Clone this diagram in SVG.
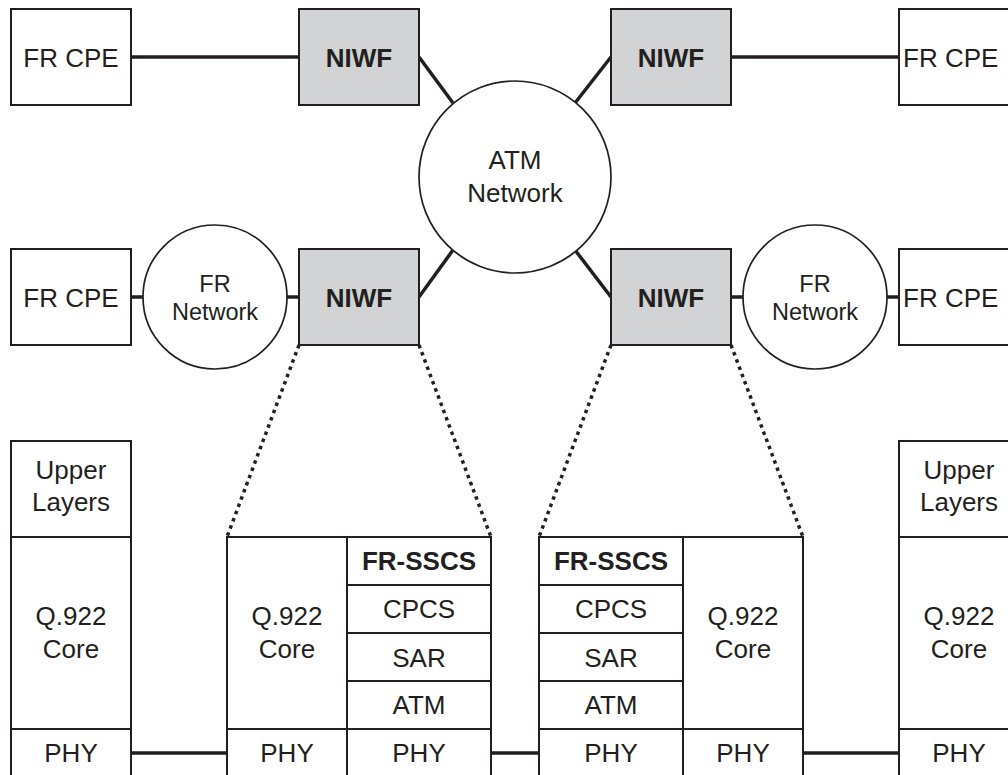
<svg xmlns="http://www.w3.org/2000/svg" width="1008" height="775" viewBox="0 0 1008 775">
<style>
.box{fill:#fff;stroke:#231f20;stroke-width:2}
.niwf{fill:#d1d3d4;stroke:#231f20;stroke-width:2}
.cir{fill:#fff;stroke:#231f20;stroke-width:1.7}
.t{font-family:"Liberation Sans",Arial,sans-serif;font-size:26px;fill:#231f20;text-anchor:middle}
.s{font-size:23.5px}
.b{font-weight:bold}
.st{text-anchor:start}
.conn line{stroke:#231f20;stroke-width:3.5}
.dot line{stroke:#231f20;stroke-width:3.5;stroke-dasharray:3.5 4.2}
</style>
<rect width="1008" height="775" fill="#fff"/>
<g class="conn">
<line x1="131" y1="57" x2="299" y2="57"/>
<line x1="731" y1="57" x2="899" y2="57"/>
<line x1="419" y1="57" x2="453" y2="103"/>
<line x1="611" y1="57" x2="575" y2="103"/>
<line x1="419" y1="297" x2="453" y2="250"/>
<line x1="611" y1="297" x2="575" y2="250"/>
<line x1="131" y1="297" x2="143" y2="297"/>
<line x1="287" y1="297" x2="299" y2="297"/>
<line x1="731" y1="297" x2="743" y2="297"/>
<line x1="887" y1="297" x2="899" y2="297"/>
<line x1="131" y1="753" x2="227" y2="753"/>
<line x1="491" y1="753" x2="539" y2="753"/>
<line x1="803" y1="753" x2="899" y2="753"/>
</g>
<g class="dot">
<line x1="299" y1="345" x2="227" y2="537"/>
<line x1="419" y1="345" x2="491" y2="537"/>
<line x1="611" y1="345" x2="539" y2="537"/>
<line x1="731" y1="345" x2="803" y2="537"/>
</g>
<g id="cpe-tl"><rect class="box" x="11" y="9" width="120" height="96"/><text class="t" x="71" y="67">FR CPE</text></g>
<g id="niwf-tl"><rect class="niwf" x="299" y="9" width="120" height="96"/><text class="t b" x="359" y="67">NIWF</text></g>
<g id="niwf-tr"><rect class="niwf" x="611" y="9" width="120" height="96"/><text class="t b" x="671" y="67">NIWF</text></g>
<g id="cpe-tr"><rect class="box" x="899" y="9" width="120" height="96"/><text class="t st" x="903" y="67">FR CPE</text></g>
<g id="atm"><circle class="cir" cx="515" cy="177" r="96"/><text class="t" x="515" y="169">ATM</text><text class="t" x="515" y="202">Network</text></g>
<g id="cpe-bl"><rect class="box" x="11" y="249" width="120" height="96"/><text class="t" x="71" y="307">FR CPE</text></g>
<g id="frnet-l"><circle class="cir" cx="215" cy="297" r="72"/><text class="t s" x="215" y="292">FR</text><text class="t s" x="215" y="320">Network</text></g>
<g id="niwf-bl"><rect class="niwf" x="299" y="249" width="120" height="96"/><text class="t b" x="359" y="307">NIWF</text></g>
<g id="niwf-br"><rect class="niwf" x="611" y="249" width="120" height="96"/><text class="t b" x="671" y="307">NIWF</text></g>
<g id="frnet-r"><circle class="cir" cx="815" cy="297" r="72"/><text class="t s" x="815" y="292">FR</text><text class="t s" x="815" y="320">Network</text></g>
<g id="cpe-br"><rect class="box" x="899" y="249" width="120" height="96"/><text class="t st" x="903" y="307">FR CPE</text></g>
<g id="stack-l">
<rect class="box" x="11" y="441" width="120" height="96"/><text class="t" x="71" y="479">Upper</text><text class="t" x="71" y="511">Layers</text>
<rect class="box" x="11" y="537" width="120" height="192"/><text class="t" x="71" y="625">Q.922</text><text class="t" x="71" y="658">Core</text>
<rect class="box" x="11" y="729" width="120" height="50"/><text class="t" x="71" y="762">PHY</text>
</g>
<g id="stack-cl">
<rect class="box" x="227" y="537" width="120" height="192"/><text class="t" x="287" y="625">Q.922</text><text class="t" x="287" y="658">Core</text>
<rect class="box" x="227" y="729" width="120" height="50"/><text class="t" x="287" y="762">PHY</text>
<rect class="box" x="347" y="537" width="144" height="48"/><text class="t b" x="419" y="570">FR-SSCS</text>
<rect class="box" x="347" y="585" width="144" height="48"/><text class="t" x="419" y="618">CPCS</text>
<rect class="box" x="347" y="633" width="144" height="48"/><text class="t" x="419" y="667">SAR</text>
<rect class="box" x="347" y="681" width="144" height="48"/><text class="t" x="419" y="714">ATM</text>
<rect class="box" x="347" y="729" width="144" height="50"/><text class="t" x="419" y="762">PHY</text>
</g>
<g id="stack-cr">
<rect class="box" x="539" y="537" width="144" height="48"/><text class="t b" x="611" y="570">FR-SSCS</text>
<rect class="box" x="539" y="585" width="144" height="48"/><text class="t" x="611" y="618">CPCS</text>
<rect class="box" x="539" y="633" width="144" height="48"/><text class="t" x="611" y="667">SAR</text>
<rect class="box" x="539" y="681" width="144" height="48"/><text class="t" x="611" y="714">ATM</text>
<rect class="box" x="539" y="729" width="144" height="50"/><text class="t" x="611" y="762">PHY</text>
<rect class="box" x="683" y="537" width="120" height="192"/><text class="t" x="743" y="625">Q.922</text><text class="t" x="743" y="658">Core</text>
<rect class="box" x="683" y="729" width="120" height="50"/><text class="t" x="743" y="762">PHY</text>
</g>
<g id="stack-r">
<rect class="box" x="899" y="441" width="120" height="96"/><text class="t" x="959" y="479">Upper</text><text class="t" x="959" y="511">Layers</text>
<rect class="box" x="899" y="537" width="120" height="192"/><text class="t" x="959" y="625">Q.922</text><text class="t" x="959" y="658">Core</text>
<rect class="box" x="899" y="729" width="120" height="50"/><text class="t" x="959" y="762">PHY</text>
</g>
</svg>
